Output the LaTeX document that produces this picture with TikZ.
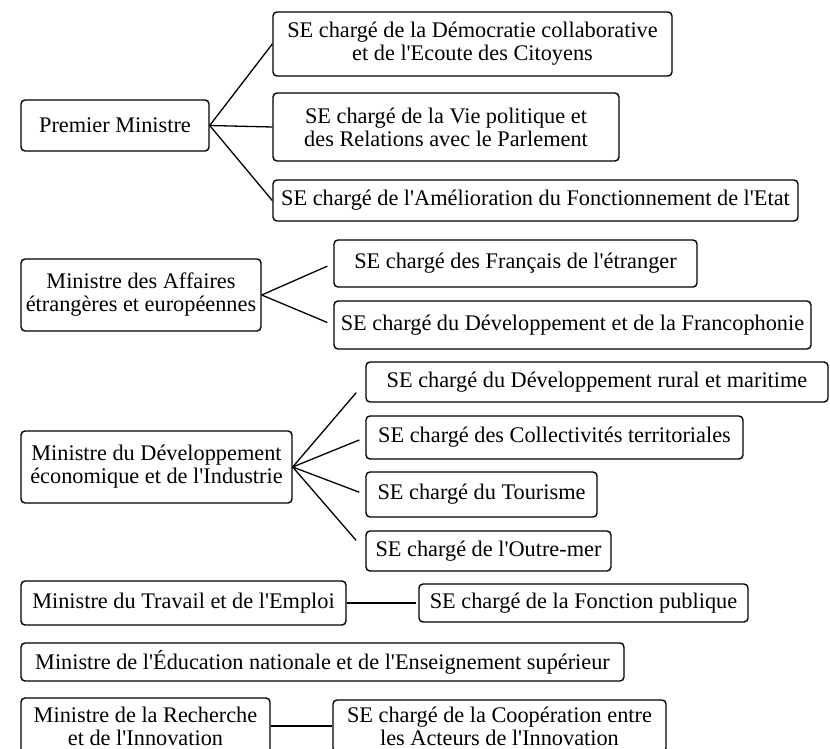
\documentclass[tikz,border=0pt]{standalone}
\usepackage{fontspec}
\setmainfont{Liberation Serif}[Ligatures=TeXOff]
\begin{document}
\begin{tikzpicture}[x=1pt,y=-1pt,
  box/.style={draw, line width=1.4pt, rounded corners=4pt, align=center, inner sep=0pt,
    font=\fontsize{22.3}{23}\selectfont},
  link/.style={line width=1.3pt}]
\fill[white] (0,0) rectangle (830,749);
\useasboundingbox (0,0) rectangle (830,749);
% Premier Ministre
\node[box, minimum width=188pt, minimum height=51pt] (pm) at (115,125.5) {Premier Ministre};
\node[box, minimum width=399pt, minimum height=64pt] (se1) at (472.5,44) {SE chargé de la Démocratie collaborative\\et de l'Ecoute des Citoyens};
\node[box, minimum width=346pt, minimum height=68pt] (se2) at (446,127) {SE chargé de la Vie politique et\\des Relations avec le Parlement};
\node[box, minimum width=525pt, minimum height=41pt] (se3) at (535.5,200.5) {SE chargé de l'Amélioration du Fonctionnement de l'Etat};
% Affaires etrangeres
\node[box, minimum width=240pt, minimum height=72pt] (ae) at (141,295) {Ministre des Affaires\\étrangères et européennes};
\node[box, minimum width=363pt, minimum height=47pt] (fr) at (515.5,263.5) {SE chargé des Français de l'étranger};
\node[box, minimum width=477pt, minimum height=48pt] (fc) at (572.5,325) {SE chargé du Développement et de la Francophonie};
% Developpement economique
\node[box, minimum width=271pt, minimum height=72pt] (de) at (156.5,467) {Ministre du Développement\\économique et de l'Industrie};
\node[box, minimum width=462pt, minimum height=40pt] (ru) at (597,382) {SE chargé du Développement rural et maritime};
\node[box, minimum width=377pt, minimum height=43pt] (co) at (554.5,437.5) {SE chargé des Collectivités territoriales};
\node[box, minimum width=231pt, minimum height=45pt] (to) at (481.5,494.5) {SE chargé du Tourisme};
\node[box, minimum width=245pt, minimum height=40pt] (om) at (488.5,551) {SE chargé de l'Outre-mer};
% Travail
\node[box, minimum width=325pt, minimum height=44pt] (tr) at (183.5,603) {Ministre du Travail et de l'Emploi};
\node[box, minimum width=329pt, minimum height=38pt] (fp) at (583.5,603) {SE chargé de la Fonction publique};
% Education
\node[box, minimum width=603pt, minimum height=38pt] (ed) at (322.5,662) {Ministre de l'Éducation nationale et de l'Enseignement supérieur};
% Recherche
\node[box, minimum width=249pt, minimum height=56pt] (re) at (145.5,726) {Ministre de la Recherche\\et de l'Innovation};
\node[box, minimum width=333pt, minimum height=52pt] (cp) at (499.5,726) {SE chargé de la Coopération entre\\les Acteurs de l'Innovation};
% connectors
\draw[link] (pm.east) -- (se1.west);
\draw[link] (pm.east) -- (se2.west);
\draw[link] (pm.east) -- (se3.west);
\draw[link, shorten >=6.5pt] (ae.east) -- (fr.west);
\draw[link, shorten >=6.5pt] (ae.east) -- (fc.west);
\draw[link, shorten >=14pt] (de.east) -- (ru.west);
\draw[link, shorten >=6.5pt] (de.east) -- (co.west);
\draw[link, shorten >=6.5pt] (de.east) -- (to.west);
\draw[link, shorten >=14pt] (de.east) -- (om.west);
\draw[link, shorten >=2pt] (tr.east) -- (fp.west);
\draw[link] (re.east) -- (cp.west);
\end{tikzpicture}
\end{document}
